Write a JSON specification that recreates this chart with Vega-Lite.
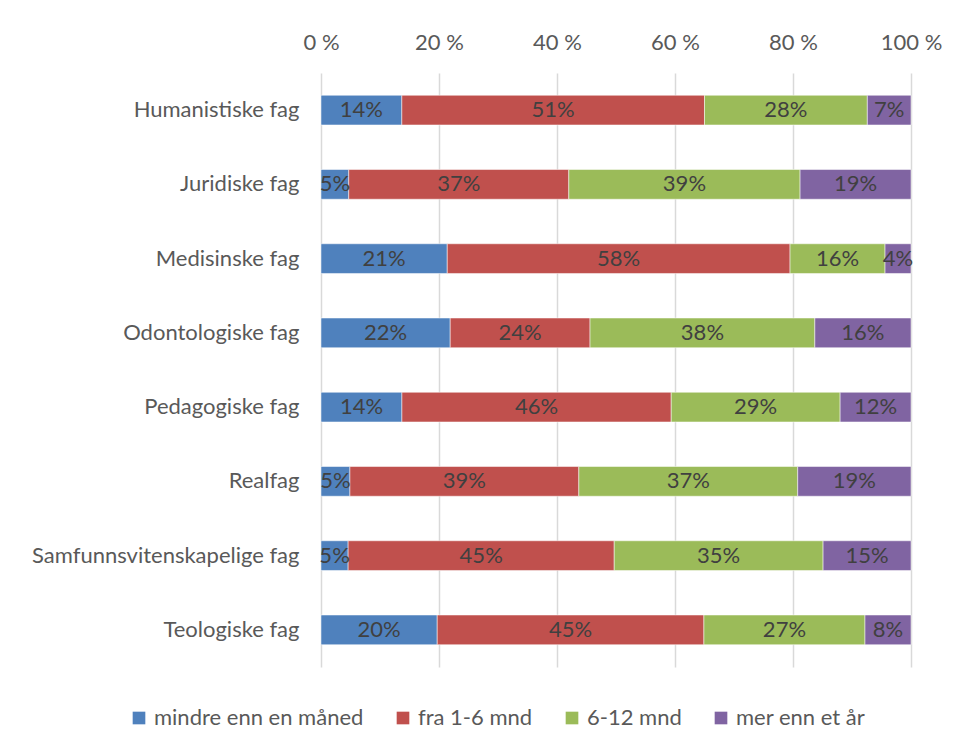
{
  "$schema": "https://vega.github.io/schema/vega-lite/v6.json",
  "autosize": {"type": "none"},
  "padding": {"left": 321, "top": 73, "right": 49, "bottom": 83},
  "width": 590,
  "height": 594,
  "background": "#ffffff",
  "data": {
    "values": [
      {"fag": "Humanistiske fag", "tid": "mindre enn en måned", "k": 1, "v": 0.137},
      {"fag": "Humanistiske fag", "tid": "fra 1-6 mnd", "k": 2, "v": 0.513},
      {"fag": "Humanistiske fag", "tid": "6-12 mnd", "k": 3, "v": 0.276},
      {"fag": "Humanistiske fag", "tid": "mer enn et år", "k": 4, "v": 0.074},
      {"fag": "Juridiske fag", "tid": "mindre enn en måned", "k": 1, "v": 0.047},
      {"fag": "Juridiske fag", "tid": "fra 1-6 mnd", "k": 2, "v": 0.373},
      {"fag": "Juridiske fag", "tid": "6-12 mnd", "k": 3, "v": 0.392},
      {"fag": "Juridiske fag", "tid": "mer enn et år", "k": 4, "v": 0.188},
      {"fag": "Medisinske fag", "tid": "mindre enn en måned", "k": 1, "v": 0.214},
      {"fag": "Medisinske fag", "tid": "fra 1-6 mnd", "k": 2, "v": 0.581},
      {"fag": "Medisinske fag", "tid": "6-12 mnd", "k": 3, "v": 0.161},
      {"fag": "Medisinske fag", "tid": "mer enn et år", "k": 4, "v": 0.044},
      {"fag": "Odontologiske fag", "tid": "mindre enn en måned", "k": 1, "v": 0.219},
      {"fag": "Odontologiske fag", "tid": "fra 1-6 mnd", "k": 2, "v": 0.237},
      {"fag": "Odontologiske fag", "tid": "6-12 mnd", "k": 3, "v": 0.381},
      {"fag": "Odontologiske fag", "tid": "mer enn et år", "k": 4, "v": 0.163},
      {"fag": "Pedagogiske fag", "tid": "mindre enn en måned", "k": 1, "v": 0.137},
      {"fag": "Pedagogiske fag", "tid": "fra 1-6 mnd", "k": 2, "v": 0.456},
      {"fag": "Pedagogiske fag", "tid": "6-12 mnd", "k": 3, "v": 0.286},
      {"fag": "Pedagogiske fag", "tid": "mer enn et år", "k": 4, "v": 0.12},
      {"fag": "Realfag", "tid": "mindre enn en måned", "k": 1, "v": 0.049},
      {"fag": "Realfag", "tid": "fra 1-6 mnd", "k": 2, "v": 0.388},
      {"fag": "Realfag", "tid": "6-12 mnd", "k": 3, "v": 0.371},
      {"fag": "Realfag", "tid": "mer enn et år", "k": 4, "v": 0.192},
      {"fag": "Samfunnsvitenskapelige fag", "tid": "mindre enn en måned", "k": 1, "v": 0.046},
      {"fag": "Samfunnsvitenskapelige fag", "tid": "fra 1-6 mnd", "k": 2, "v": 0.451},
      {"fag": "Samfunnsvitenskapelige fag", "tid": "6-12 mnd", "k": 3, "v": 0.354},
      {"fag": "Samfunnsvitenskapelige fag", "tid": "mer enn et år", "k": 4, "v": 0.149},
      {"fag": "Teologiske fag", "tid": "mindre enn en måned", "k": 1, "v": 0.197},
      {"fag": "Teologiske fag", "tid": "fra 1-6 mnd", "k": 2, "v": 0.452},
      {"fag": "Teologiske fag", "tid": "6-12 mnd", "k": 3, "v": 0.273},
      {"fag": "Teologiske fag", "tid": "mer enn et år", "k": 4, "v": 0.078}
    ]
  },
  "encoding": {
    "y": {
      "field": "fag",
      "type": "nominal",
      "sort": null,
      "title": null,
      "scale": {"paddingInner": 0.6, "paddingOuter": 0.3},
      "axis": {
        "domain": false,
        "ticks": false,
        "labelPadding": 22,
        "labelFontSize": 22,
        "labelFont": "Lato",
        "labelColor": "#595959",
        "labelLimit": 400
      }
    }
  },
  "layer": [
    {
      "mark": {"type": "bar", "stroke": "#ffffff", "strokeWidth": 0.5},
      "encoding": {
        "x": {
          "field": "v",
          "type": "quantitative",
          "stack": "normalize",
          "title": null,
          "scale": {"domain": [0, 1], "nice": false},
          "axis": {
            "orient": "top",
            "values": [0, 0.2, 0.4, 0.6, 0.8, 1],
            "labelExpr": "format(datum.value * 100, 'd') + ' %'",
            "grid": true,
            "gridColor": "#d9d9d9",
            "gridWidth": 1.5,
            "domain": false,
            "ticks": false,
            "labelPadding": 19,
            "labelFontSize": 22,
            "labelFont": "Lato",
            "labelColor": "#595959",
            "labelFlush": false
          }
        },
        "color": {
          "field": "tid",
          "type": "nominal",
          "title": null,
          "scale": {
            "domain": ["mindre enn en måned", "fra 1-6 mnd", "6-12 mnd", "mer enn et år"],
            "range": ["#4f81bd", "#c0504d", "#9bbb59", "#8064a2"]
          },
          "legend": {
            "orient": "none",
            "direction": "horizontal",
            "legendX": -193,
            "legendY": 634,
            "symbolType": "square",
            "symbolSize": 160,
            "symbolStrokeWidth": 0,
            "labelFontSize": 22,
            "labelFont": "Lato",
            "labelColor": "#595959",
            "columnPadding": 28,
            "labelOffset": 4,
            "labelLimit": 400
          }
        },
        "order": {"field": "k", "type": "quantitative"}
      }
    },
    {
      "mark": {
        "type": "text",
        "fontSize": 22,
        "font": "Lato",
        "color": "#404040",
        "baseline": "middle",
        "align": "center"
      },
      "encoding": {
        "x": {
          "field": "v",
          "type": "quantitative",
          "stack": "normalize",
          "bandPosition": 0.5
        },
        "detail": {"field": "tid", "type": "nominal"},
        "order": {"field": "k", "type": "quantitative"},
        "text": {"field": "v", "type": "quantitative", "format": ".0%"}
      }
    }
  ],
  "config": {"view": {"stroke": null}}
}
